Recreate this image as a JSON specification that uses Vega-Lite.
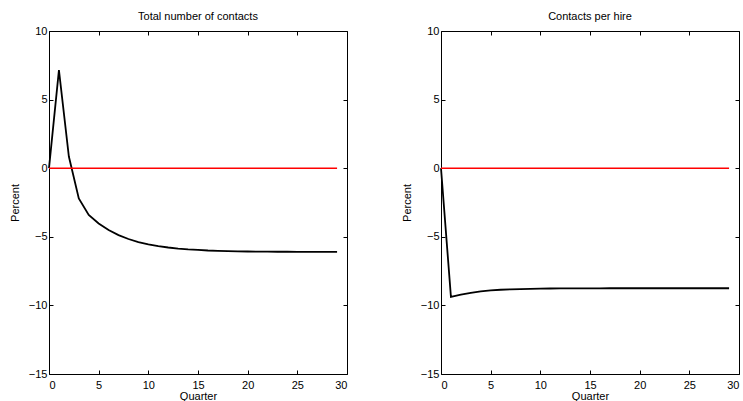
{
  "$schema": "https://vega.github.io/schema/vega-lite/v6.json",
  "padding": {"left": 8, "top": 10, "right": 0, "bottom": 0},
  "background": "white",
  "config": {
    "font": "Liberation Sans",
    "view": {"stroke": "black", "strokeWidth": 1},
    "concat": {"spacing": 52},
    "axis": {
      "grid": false,
      "domain": false,
      "ticks": true,
      "tickColor": "black",
      "tickSize": -4,
      "tickWidth": 1,
      "labelColor": "black",
      "labelFontSize": 11,
      "labelFont": "Liberation Sans",
      "titleFont": "Liberation Sans",
      "titleFontSize": 11,
      "titleFontWeight": "normal",
      "titleColor": "black"
    },
    "title": {"fontSize": 11, "fontWeight": "normal", "font": "Liberation Sans", "color": "black", "offset": 3}
  },
  "datasets": {
    "zero": [{"q": 0, "v": 0}, {"q": 29, "v": 0}],
    "total": [
      {"q": 0, "v": 0}, {"q": 1, "v": 7.15}, {"q": 2, "v": 0.85}, {"q": 3, "v": -2.2},
      {"q": 4, "v": -3.4}, {"q": 5, "v": -4.03}, {"q": 6, "v": -4.51}, {"q": 7, "v": -4.88},
      {"q": 8, "v": -5.16}, {"q": 9, "v": -5.38}, {"q": 10, "v": -5.55}, {"q": 11, "v": -5.68},
      {"q": 12, "v": -5.78}, {"q": 13, "v": -5.86}, {"q": 14, "v": -5.92}, {"q": 15, "v": -5.96},
      {"q": 16, "v": -6.0}, {"q": 17, "v": -6.02}, {"q": 18, "v": -6.04}, {"q": 19, "v": -6.06},
      {"q": 20, "v": -6.07}, {"q": 21, "v": -6.08}, {"q": 22, "v": -6.085}, {"q": 23, "v": -6.09},
      {"q": 24, "v": -6.09}, {"q": 25, "v": -6.095}, {"q": 26, "v": -6.1}, {"q": 27, "v": -6.1},
      {"q": 28, "v": -6.1}, {"q": 29, "v": -6.1}
    ],
    "cph": [
      {"q": 0, "v": 0}, {"q": 1, "v": -9.38}, {"q": 2, "v": -9.22}, {"q": 3, "v": -9.08},
      {"q": 4, "v": -8.98}, {"q": 5, "v": -8.91}, {"q": 6, "v": -8.86}, {"q": 7, "v": -8.83},
      {"q": 8, "v": -8.81}, {"q": 9, "v": -8.79}, {"q": 10, "v": -8.78}, {"q": 11, "v": -8.77},
      {"q": 12, "v": -8.765}, {"q": 13, "v": -8.76}, {"q": 14, "v": -8.76}, {"q": 15, "v": -8.755},
      {"q": 16, "v": -8.755}, {"q": 17, "v": -8.75}, {"q": 18, "v": -8.75}, {"q": 19, "v": -8.75},
      {"q": 20, "v": -8.75}, {"q": 21, "v": -8.75}, {"q": 22, "v": -8.75}, {"q": 23, "v": -8.75},
      {"q": 24, "v": -8.75}, {"q": 25, "v": -8.75}, {"q": 26, "v": -8.75}, {"q": 27, "v": -8.75},
      {"q": 28, "v": -8.75}, {"q": 29, "v": -8.75}
    ]
  },
  "hconcat": [
    {
      "width": 298,
      "height": 343,
      "title": "Total number of contacts",
      "layer": [
        {
          "data": {"name": "total"},
          "mark": {"type": "line", "color": "black", "strokeWidth": 1.8},
          "encoding": {
            "x": {"field": "q", "type": "quantitative", "scale": {"domain": [0, 30], "nice": false},
                  "axis": {"orient": "bottom", "title": "Quarter", "values": [0, 5, 10, 15, 20, 25, 30], "labelPadding": 9, "titlePadding": 0}},
            "y": {"field": "v", "type": "quantitative", "scale": {"domain": [-15, 10], "nice": false},
                  "axis": {"orient": "left", "title": "Percent", "values": [-15, -10, -5, 0, 5, 10], "labelPadding": 6, "titlePadding": 8}}
          }
        },
        {
          "data": {"name": "zero"},
          "mark": {"type": "line", "color": "#ff0000", "strokeWidth": 1.6},
          "encoding": {
            "x": {"field": "q", "type": "quantitative", "scale": {"domain": [0, 30], "nice": false},
                  "axis": {"orient": "top", "title": null, "labels": false, "values": [0, 5, 10, 15, 20, 25, 30]}},
            "y": {"field": "v", "type": "quantitative", "scale": {"domain": [-15, 10], "nice": false},
                  "axis": {"orient": "right", "title": null, "labels": false, "values": [-15, -10, -5, 0, 5, 10]}}
          }
        }
      ],
      "resolve": {"axis": {"x": "independent", "y": "independent"}}
    },
    {
      "width": 298,
      "height": 343,
      "title": "Contacts per hire",
      "layer": [
        {
          "data": {"name": "cph"},
          "mark": {"type": "line", "color": "black", "strokeWidth": 1.8},
          "encoding": {
            "x": {"field": "q", "type": "quantitative", "scale": {"domain": [0, 30], "nice": false},
                  "axis": {"orient": "bottom", "title": "Quarter", "values": [0, 5, 10, 15, 20, 25, 30], "labelPadding": 9, "titlePadding": 0}},
            "y": {"field": "v", "type": "quantitative", "scale": {"domain": [-15, 10], "nice": false},
                  "axis": {"orient": "left", "title": "Percent", "values": [-15, -10, -5, 0, 5, 10], "labelPadding": 6, "titlePadding": 8}}
          }
        },
        {
          "data": {"name": "zero"},
          "mark": {"type": "line", "color": "#ff0000", "strokeWidth": 1.6},
          "encoding": {
            "x": {"field": "q", "type": "quantitative", "scale": {"domain": [0, 30], "nice": false},
                  "axis": {"orient": "top", "title": null, "labels": false, "values": [0, 5, 10, 15, 20, 25, 30]}},
            "y": {"field": "v", "type": "quantitative", "scale": {"domain": [-15, 10], "nice": false},
                  "axis": {"orient": "right", "title": null, "labels": false, "values": [-15, -10, -5, 0, 5, 10]}}
          }
        }
      ],
      "resolve": {"axis": {"x": "independent", "y": "independent"}}
    }
  ]
}
